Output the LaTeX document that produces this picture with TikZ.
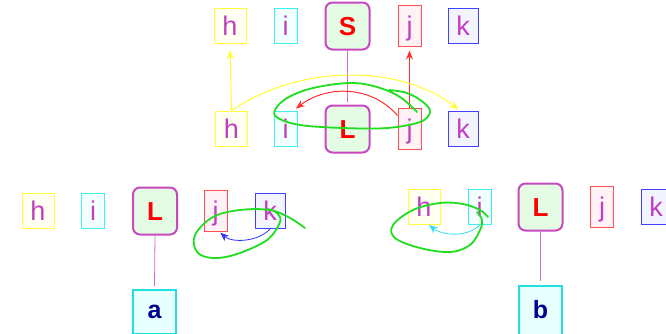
\documentclass[tikz,border=0pt]{standalone}
\usepackage{fontspec}
\setmainfont{Liberation Sans}
\usetikzlibrary{arrows.meta}
\definecolor{txt}{HTML}{C040C0}
\definecolor{hY}{HTML}{FFFF40}
\definecolor{hF}{HTML}{FFFFF2}
\definecolor{iC}{HTML}{40F0F0}
\definecolor{iF}{HTML}{F2FFFF}
\definecolor{jR}{HTML}{FF5050}
\definecolor{jF}{HTML}{FFF2F6}
\definecolor{kB}{HTML}{4040FF}
\definecolor{kF}{HTML}{F4F4FF}
\definecolor{mg}{HTML}{C848C0}
\definecolor{gF}{HTML}{E4FCE4}
\definecolor{abC}{HTML}{20E0E0}
\definecolor{abF}{HTML}{E8FFFF}
\definecolor{abT}{HTML}{000090}
\definecolor{grn}{HTML}{20DD20}
\definecolor{yA}{HTML}{FFFF30}
\definecolor{rA}{HTML}{FF3030}
\definecolor{bA}{HTML}{3030FF}
\definecolor{cA}{HTML}{30E0F0}
\tikzset{
  lbox/.style={draw, line width=1pt, inner sep=0pt, text=txt,
    font=\fontsize{27}{27}\selectfont, text height=19pt, text depth=0pt},
  hbox/.style={lbox, draw=hY, fill=hF, minimum width=32pt, minimum height=35pt},
  ibox/.style={lbox, draw=iC, fill=iF, minimum width=23pt, minimum height=35pt},
  jbox/.style={lbox, draw=jR, fill=jF, minimum width=23pt, minimum height=41pt},
  kbox/.style={lbox, draw=kB, fill=kF, minimum width=30pt, minimum height=35pt},
  cbox/.style={draw=mg, line width=2pt, rounded corners=7pt, fill=gF, inner sep=0pt,
    text=red, font=\fontsize{26}{26}\selectfont\bfseries, text height=19pt, text depth=0pt,
    minimum width=44pt, minimum height=47pt},
  abbox/.style={draw=abC, line width=2pt, fill=abF, inner sep=0pt, text=abT,
    font=\fontsize{25}{25}\selectfont\bfseries, text height=12pt, text depth=0pt,
    minimum width=43pt},
  conn/.style={draw=mg!80!white, line width=0.8pt},
  arr/.style={line width=1pt, -{Stealth[length=9pt,width=7pt]}},
  loop/.style={draw=grn, line width=1.8pt, line cap=round, line join=round},
}
\begin{document}
\begin{tikzpicture}[x=1pt,y=-1pt]
\useasboundingbox (0,0) rectangle (666,333);
\clip (0,0) rectangle (666,333);
% top group
\node[hbox] (h1) at (230,26) {h};
\node[ibox] (i1) at (285.5,26) {i};
\node[cbox] (S) at (347.5,26) {S};
\node[jbox] (j1) at (409.5,25.5) {j};
\node[kbox] (k1) at (463,26) {k};
\node[hbox] (h2) at (231.5,128.5) {h};
\node[ibox] (i2) at (285.5,128.5) {i};
\node[cbox] (L) at (347.5,129) {L};
\node[jbox] (j2) at (409.5,128.5) {j};
\node[kbox] (k2) at (463,128.5) {k};
\draw[conn, shorten >=3pt] (S.south) -- (L.north);
\draw[arr, draw=yA, shorten >=6pt] (h2.north) -- (h1.south);
\draw[arr, draw=rA, shorten >=4pt] (j2.north) -- (j1.south);
\draw[arr, draw=yA, shorten >=2pt] (h2.north) .. controls (300,64) and (400,64) .. ([xshift=-3pt]k2.north);
\draw[arr, draw=rA, shorten >=3pt] ([yshift=-8pt]j2.north west) .. controls (370,84) and (325,86) .. ([xshift=-4pt]i2.north east);
\draw[loop] plot[smooth, tension=0.6] coordinates {(389,90) (407,93) (423,102) (430,112) (420,122) (387,128) (343,128) (300,125) (278,118) (275,110) (287,98) (313,88) (350,83) (377,87) (400,97) (417,112)};
% bottom left group
\node[hbox] (h3) at (38,211) {h};
\node[ibox] (i3) at (93,211) {i};
\node[cbox] (L3) at (155,211) {L};
\node[jbox] (j3) at (215.5,211) {j};
\node[kbox] (k3) at (270,211) {k};
\node[abbox, minimum height=44pt] (a) at (154.5,312) {a};
\draw[conn, shorten >=3pt] (L3.south) -- (a.north);
\draw[arr, draw=bA, line width=0.8pt, shorten >=1pt] (k3.south) .. controls (258,242) and (232,243) .. ([xshift=4pt]j3.south);
\draw[loop] plot[smooth, tension=0.6] coordinates {(305,228) (290,218) (270,210) (240,210) (213,217) (195,235) (197,252) (213,258) (237,254) (267,240) (280,222) (277,213) (268,209)};
% bottom right group
\node[hbox] (h4) at (424,206.5) {h};
\node[ibox] (i4) at (479.5,207) {i};
\node[cbox] (L4) at (540.5,207) {L};
\node[jbox] (j4) at (602,207) {j};
\node[kbox] (k4) at (656,206.5) {k};
\node[abbox, minimum height=52pt] (b) at (540.5,312) {b};
\draw[conn, shorten >=4pt] (L4.south) -- (b.north);
\draw[arr, draw=cA, line width=0.8pt, shorten >=1pt] (i4.south) .. controls (470,236) and (445,237) .. ([xshift=4pt]h4.south);
\draw[loop] plot[smooth, tension=0.6] coordinates {(488,217) (480,210) (463,204) (440,203) (413,210) (393,225) (395,238) (420,248) (450,252) (470,245) (480,230) (482,220) (477,212)};
\end{tikzpicture}
\end{document}
